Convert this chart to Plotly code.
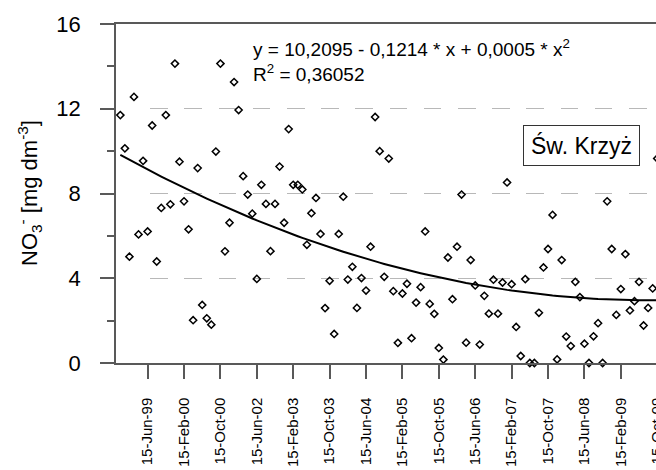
import numpy as np
import plotly.graph_objects as go

# ---------------- data ----------------
sample_no = list(range(1, 120))
no3 = [11.70, 10.13, 5.02, 12.56, 6.07, 9.54, 6.21, 11.21, 4.79, 7.32,
       11.70, 7.49, 14.13, 9.50, 7.63, 6.31, 2.02, 9.20, 2.74, 2.11,
       1.81, 9.98, 14.13, 5.27, 6.62, 13.26, 11.94, 8.82, 7.95, 7.05,
       3.97, 8.41, 7.51, 5.28, 7.51, 9.27, 6.62, 11.04, 8.41, 8.41,
       8.19, 5.58, 7.07, 7.79, 6.09, 2.59, 3.88, 1.37, 6.09, 7.85,
       3.94, 4.54, 2.60, 4.01, 3.42, 5.49, 11.61, 10.00, 4.07, 9.65,
       3.39, 0.95, 3.28, 3.74, 1.17, 2.85, 3.58, 6.21, 2.79, 2.32,
       0.71, 0.16, 4.98, 3.01, 5.49, 7.95, 0.96, 4.86, 3.66, 0.87,
       3.17, 2.33, 3.93, 2.33, 3.80, 8.52, 3.72, 1.70, 0.33, 3.96,
       0.00, 0.00, 2.37, 4.51, 5.38, 6.99, 0.17, 4.86, 1.25, 0.80,
       3.83, 3.11, 0.91, 0.00, 1.26, 1.88, 0.00, 7.63, 5.38, 2.27,
       3.49, 5.14, 2.48, 2.92, 3.83, 1.77, 2.60, 3.52, 9.65]

tick_pos = [7, 15, 23, 31, 39, 47, 55, 63, 71, 79, 87, 95, 103, 111, 119]
tick_labels = ["15-Jun-99", "15-Feb-00", "15-Oct-00", "15-Jun-02", "15-Feb-03",
               "15-Oct-03", "15-Jun-04", "15-Feb-05", "15-Oct-05", "15-Jun-06",
               "15-Feb-07", "15-Oct-07", "15-Jun-08", "15-Feb-09", "15-Oct-09"]
y_ticks = [0, 4, 8, 12, 16]

equation_text = "y = 10,2095 - 0,1214 * x + 0,0005 * x<sup>2</sup>"
r2_text = "R<sup>2</sup> = 0,36052"
station = "Św. Krzyż"
y_title = "NO<sub>3</sub><sup>-</sup> [mg dm<sup>-3</sup>]"

# quadratic trend fitted to the data
coef = np.polyfit(sample_no, no3, 2)
fit_y = np.polyval(coef, sample_no)

# ---------------- layout geometry ----------------
W, H = 700, 470          # the 656-px window shows a crop of the figure
L, T, B = 116, 24, 107
px_per_case = 4.55
x0 = 0.05
R = 34
plot_w = W - L - R
x1 = x0 + plot_w / px_per_case
plot_h = H - T - B

def px_x(px):
    return (px - L) / plot_w

def px_y(py):
    return (T + plot_h - py) / plot_h

FONT = "Liberation Sans, Arial, sans-serif"
AX = "#595959"
grid_dash = "0px,34.2px," + ",".join(["17.5px,16.7px"] * 18)

fig = go.Figure()
fig.add_trace(go.Scatter(
    x=sample_no, y=fit_y, mode="lines",
    line=dict(color="black", width=2), hoverinfo="skip", showlegend=False))
fig.add_trace(go.Scatter(
    x=sample_no, y=no3, mode="markers", cliponaxis=False,
    marker=dict(symbol="diamond-open", size=5.5, color="black",
                line=dict(color="black", width=1.5)),
    showlegend=False))

fig.update_layout(
    width=W, height=H, template="none",
    margin=dict(l=L, r=R, t=T, b=B, pad=0),
    paper_bgcolor="white", plot_bgcolor="white",
    font=dict(family=FONT, color="black"),
    showlegend=False,
    xaxis=dict(range=[x0, x1], tickmode="array", tickvals=tick_pos,
               ticktext=tick_labels, tickangle=-90,
               tickfont=dict(size=15, family=FONT, color="black"),
               ticks="outside", ticklen=14, tickwidth=1.5, tickcolor=AX,
               ticklabelstandoff=13,
               showline=True, linecolor=AX, linewidth=1.5, mirror=True,
               showgrid=False, zeroline=False, automargin=False),
    yaxis=dict(range=[0, 16], tickmode="array", tickvals=y_ticks,
               tickfont=dict(size=22, family=FONT, color="black"),
               ticks="outside", ticklen=14, tickwidth=1.5, tickcolor=AX,
               ticklabelstandoff=15,
               minor=dict(tickmode="linear", tick0=0, dtick=2, ticks="outside",
                          ticklen=7, tickwidth=1.5, tickcolor=AX, showgrid=False),
               showline=True, linecolor=AX, linewidth=1.5, mirror=False,
               showgrid=True, gridcolor="#b8b8b8", gridwidth=1, griddash=grid_dash,
               zeroline=False, automargin=False),
)

fig.add_annotation(xref="paper", yref="paper", x=px_x(29.5), y=px_y(192.5),
                   text=y_title, textangle=-90, showarrow=False,
                   xanchor="center", yanchor="middle",
                   font=dict(size=22, family=FONT, color="black"))
fig.add_annotation(xref="paper", yref="paper", x=px_x(250.5), y=px_y(61),
                   text=equation_text + "<br>" + r2_text, showarrow=False,
                   xanchor="left", yanchor="middle", align="left",
                   font=dict(size=19, family=FONT, color="black"))
fig.add_annotation(xref="paper", yref="paper", x=px_x(581.3), y=px_y(145.3),
                   text=station, showarrow=False,
                   xanchor="center", yanchor="middle",
                   width=111, height=35, borderpad=2,
                   bordercolor="#333333", borderwidth=1, bgcolor="white",
                   font=dict(size=23, family=FONT, color="black"))

fig.write_html("out.html",
               post_script="document.documentElement.style.overflow='hidden';"
                           "document.body.style.overflow='hidden';")
